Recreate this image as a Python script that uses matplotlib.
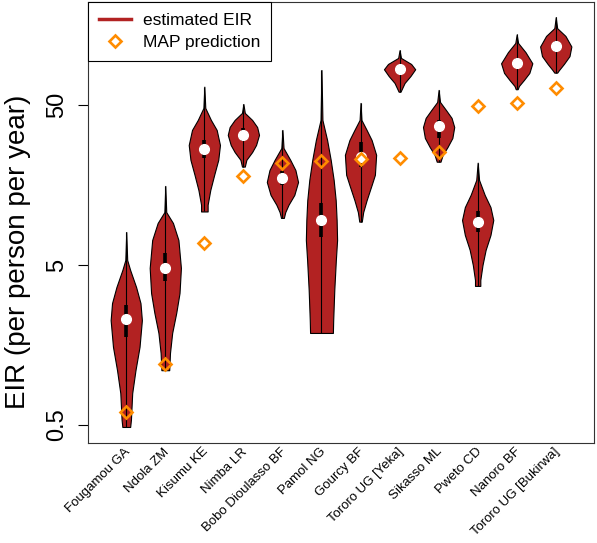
import matplotlib.pyplot as plt
import matplotlib.transforms as mtransforms
from matplotlib.lines import Line2D
import numpy as np

plt.rcParams['font.family'] = ['Liberation Sans', 'DejaVu Sans']

sites = ['Fougamou GA', 'Ndola ZM', 'Kisumu KE', 'Nimba LR', 'Bobo Dioulasso BF',
         'Pamol NG', 'Gourcy BF', 'Tororo UG [Yeka]', 'Sikasso ML', 'Pweto CD',
         'Nanoro BF', 'Tororo UG [Bukirwa]']

# MAP prediction (orange diamonds)
map_eir = [0.60, 1.20, 6.9, 18.1, 21.8, 22.4, 22.9, 23.2, 25.5, 49.3, 51.7, 64.2]
# estimated EIR: median + interquartile range
med_eir = [2.29, 4.77, 26.4, 32.5, 17.4, 9.55, 23.7, 83.6, 36.9, 9.3, 91.1, 117]
q1_eir = [1.78, 3.97, 23.2, 29.8, 15.8, 7.51, 20.6, 79.3, 31.1, 8.07, 85.1, 107]
q3_eir = [2.81, 5.95, 30.2, 35.9, 19.2, 12.2, 29.5, 87.7, 40.3, 10.8, 98.4, 126]

# violin outlines: EIR level (top -> bottom) and relative half width
prof_eir = [
    [8.04, 5.37, 4.65, 3.64, 2.89, 2.26, 1.54, 1.10, 0.79, 0.54, 0.486],
    [15.6, 10.7, 9.15, 7.16, 4.79, 3.34, 2.51, 1.88, 1.41, 1.10],
    [65.1, 47.9, 40.3, 34.9, 28.1, 22.7, 18.3, 14.7, 11.9, 10.8],
    [50.7, 44.6, 40.3, 36.4, 32.5, 28.1, 25.4, 22.7, 20.6],
    [34.9, 26.9, 22.7, 19.6, 16.5, 13.7, 11.9, 10.7, 9.84],
    [82.7, 40.3, 30.2, 22.7, 17.0, 12.7, 9.55, 7.16, 5.37, 3.49, 2.26, 1.88],
    [51.5, 40.3, 34.9, 30.2, 24.4, 18.3, 15.8, 12.7, 10.7, 9.33],
    [110, 98.4, 90.2, 83.6, 75.9, 68.6, 60.5],
    [62.1, 52.2, 46.5, 41.5, 36.4, 31.1, 27.3, 24.4, 22.1],
    [21.8, 17.0, 13.7, 11.5, 9.55, 7.70, 6.21, 5.0, 4.03, 3.70],
    [138, 122, 107, 91.1, 79.3, 71.6, 65.7, 62.7],
    [177, 151, 135, 116, 101, 90.2, 82.7, 79.6],
]
prof_w = [
    [0, 0.06, 0.25, 0.63, 0.91, 1.0, 0.85, 0.59, 0.38, 0.30, 0.25],
    [0, 0.06, 0.49, 0.84, 1.0, 0.91, 0.70, 0.44, 0.30, 0.25],
    [0, 0.06, 0.42, 0.79, 1.0, 0.89, 0.63, 0.38, 0.21, 0.21],
    [0, 0.09, 0.56, 0.88, 1.0, 0.81, 0.56, 0.19, 0.09],
    [0, 0.07, 0.50, 0.83, 1.0, 0.76, 0.39, 0.18, 0.09],
    [0, 0.06, 0.36, 0.59, 0.78, 0.91, 0.97, 1.0, 0.92, 0.82, 0.75, 0.73],
    [0, 0.06, 0.39, 0.71, 1.0, 0.92, 0.71, 0.39, 0.17, 0.08],
    [0, 0.09, 0.74, 1.0, 0.70, 0.32, 0.06],
    [0, 0.09, 0.47, 0.83, 1.0, 0.88, 0.57, 0.26, 0.12],
    [0, 0.09, 0.45, 0.82, 1.0, 0.82, 0.51, 0.31, 0.17, 0.17],
    [0, 0.09, 0.56, 1.0, 0.81, 0.46, 0.14, 0.06],
    [0, 0.09, 0.62, 1.0, 0.88, 0.52, 0.21, 0.09],
]

red = '#B22222'
orange = '#FF8C00'

fig = plt.figure(figsize=(5.97, 5.43), dpi=100)
ax = fig.add_axes([0.1474, 0.1842, 0.8476, 0.8121])

n = len(sites)
for i in range(n):
    y = np.array(prof_eir[i])
    w = 0.4 * np.array(prof_w[i])
    ax.fill_betweenx(y, i - w, i + w, facecolor=red, edgecolor='black', lw=0.8, zorder=2)
    ax.vlines(i, y[-1], y[0], color='black', lw=0.8, zorder=3)
    ax.vlines(i, q1_eir[i], q3_eir[i], color='black', lw=2.6, zorder=3)
    ax.plot(i, med_eir[i], 'o', color='white', ms=7, mec='white', zorder=4)

ax.plot(range(n), map_eir, 'D', ls='none', mfc='none', mec=orange, mew=1.9, ms=6.5, zorder=5)

ax.set_yscale('log')
ax.set_ylim(0.386, 220)
ax.set_xlim(-0.98, n - 0.02)
ax.set_yticks([0.5, 5, 50])
ax.set_yticklabels(['0.5', '5', '50'])
ax.yaxis.set_minor_locator(plt.NullLocator())
ax.tick_params(axis='y', length=7, width=0.8, labelsize=17, pad=7)
for lab in ax.get_yticklabels():
    lab.set_rotation(90)
    lab.set_va('center')

# site names: rotated 45 deg, right end just below the axis, nudged right
ax.set_xticks(range(n))
ax.set_xticklabels(sites, rotation=45, ha='right', va='center', rotation_mode='anchor', fontsize=9.5)
ax.tick_params(axis='x', length=0, pad=5)
shift = mtransforms.ScaledTranslation(2 / 100, 0, fig.dpi_scale_trans)
for lab in ax.get_xticklabels():
    lab.set_transform(lab.get_transform() + shift)

ax.set_ylabel('EIR (per person per year)', fontsize=20)
ax.yaxis.set_label_coords(-0.113, 0.433)

for s in ax.spines.values():
    s.set_linewidth(0.8)
    s.set_color('#333333')

handles = [Line2D([], [], color=red, lw=2.5),
           Line2D([], [], marker='D', ls='none', mfc='none', mec=orange, mew=1.9, ms=6.5)]
leg = ax.legend(handles, ['estimated EIR', 'MAP prediction'], loc='upper left',
                bbox_to_anchor=(0, 1), borderaxespad=0, fontsize=12.5, fancybox=False,
                framealpha=1, edgecolor='black', handlelength=1.8, handletextpad=0.7,
                labelspacing=0.35, borderpad=0.65)
leg.get_frame().set_linewidth(0.8)

fig.savefig('out.png', dpi=100)
